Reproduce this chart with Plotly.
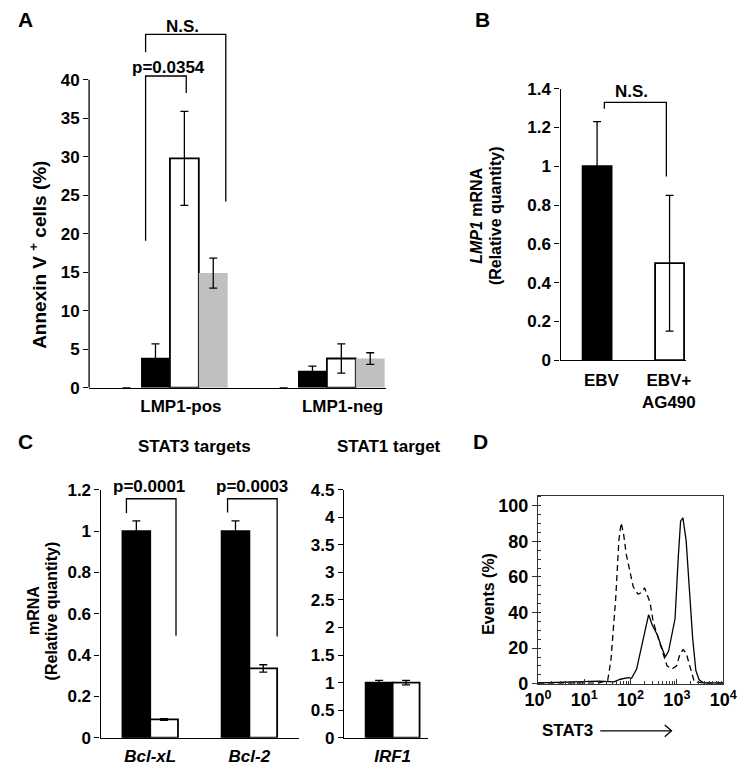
import plotly.graph_objects as go

W, H = 750, 773
def PX(px): return px / W
def PY(py): return 1 - py / H

FONT = "Liberation Sans, Arial, sans-serif"

# ---------------- Data ----------------
# Panel A
a_categories = ["LMP1-pos", "LMP1-neg"]
a_zero = [0, 0]
a_zero_err = [0, 0]
a_black = [3.9, 2.2]
a_black_err = [1.8, 0.6]
a_white = [29.8, 3.8]
a_white_err = [6.1, 1.9]
a_gray = [14.9, 3.8]
a_gray_err = [1.95, 0.75]
a_yticks = [0, 5, 10, 15, 20, 25, 30, 35, 40]

# Panel B
b_categories = ["EBV", "EBV+<br>AG490"]
b_values = [1.0, 0.5]
b_err = [0.23, 0.35]
b_yticks = [0, 0.2, 0.4, 0.6, 0.8, 1.0, 1.2, 1.4]

# Panel C (STAT3 targets)
c_categories = ["<i>Bcl-xL</i>", "<i>Bcl-2</i>"]
c_black = [1.0, 1.0]
c_black_err = [0.05, 0.05]
c_white = [0.088, 0.335]
c_white_err = [0.004, 0.018]
c_yticks = [0, 0.2, 0.4, 0.6, 0.8, 1.0, 1.2]

# Panel C (STAT1 target)
c2_categories = ["<i>IRF1</i>"]
c2_black = [1.0]
c2_black_err = [0.04]
c2_white = [1.0]
c2_white_err = [0.04]
c2_yticks = [0, 0.5, 1, 1.5, 2, 2.5, 3, 3.5, 4, 4.5]

# Panel D (flow histogram)
d_solid_x = [1, 21, 44, 60, 89, 105, 135, 186, 245, 295, 380, 447, 562, 661,
             776, 912, 1072, 1202, 1349, 1585, 1862, 2188, 2570, 3020, 3800, 10000]
d_solid_y = [0.4, 1.5, 1.0, 2.5, 3.4, 3.0, 8.2, 23.8, 38.8, 32.9, 27.4, 21.9, 15.0, 18.3,
             27.4, 36.5, 71.3, 91.4, 93.2, 80.4, 53.0, 25.6, 7.3, 2.2, 0.4, 0.4]
d_dash_x = [1, 20, 32, 37.5, 47.6, 55.8, 62.5, 70.8, 80.5, 94.4, 114, 145, 171, 200, 234,
            263, 308, 378, 481, 611, 776, 986, 1159, 1358, 1585, 1871, 2188, 2377, 4000, 10000]
d_dash_y = [0.3, 0.3, 1.8, 12.8, 47.5, 80.4, 90.5, 84.0, 72.8, 63.7, 54.5, 50.3, 51.2, 53.9, 49.3,
            45.7, 34.7, 27.4, 18.3, 10.1, 8.2, 10.1, 16.4, 19.2, 17.3, 11.0, 3.7, 1.0, 0.3, 0.3]
d_xtickvals = [1, 10, 100, 1000, 10000]
d_xticktext = ["10<sup>0</sup>", "10<sup>1</sup>", "10<sup>2</sup>", "10<sup>3</sup>", "10<sup>4</sup>"]
d_yticks = [0, 20, 40, 60, 80, 100]

GRAY = "#c0c0c0"
fig = go.Figure()

def err(arr):
    return dict(type="data", array=arr, visible=True, color="black", thickness=1.3, width=4)

def bar(x, y, e, color, offset, width, xa, ya, lw=1.8):
    return go.Bar(x=x, y=y, error_y=err(e), offset=offset, width=width,
                  marker=dict(color=color, line=dict(color="black", width=lw)),
                  xaxis=xa, yaxis=ya, showlegend=False, hoverinfo="skip")

# ---- Panel A ----
ax = [0, 1]
bw = 0.184
fig.add_trace(bar(ax, a_zero, a_zero_err, "white", -2 * bw, bw, "x", "y", lw=0))
fig.add_trace(bar(ax, a_black, a_black_err, "black", -bw, bw, "x", "y", lw=0))
fig.add_trace(bar(ax, a_white, a_white_err, "white", 0, bw, "x", "y"))
fig.add_trace(bar(ax, a_gray, a_gray_err, GRAY, bw, bw, "x", "y", lw=0))

# ---- Panel B ----
fig.add_trace(go.Bar(x=[0, 1], y=b_values, error_y=err(b_err), width=0.4,
                     marker=dict(color=["black", "white"], line=dict(color="black", width=1.8)),
                     xaxis="x2", yaxis="y2", showlegend=False, hoverinfo="skip"))

# ---- Panel C left ----
cw = 0.28
fig.add_trace(bar([0, 1], c_black, c_black_err, "black", -cw, cw, "x3", "y3"))
fig.add_trace(bar([0, 1], c_white, c_white_err, "white", 0, cw, "x3", "y3"))

# ---- Panel C right ----
fig.add_trace(bar([0], c2_black, c2_black_err, "black", -cw, cw, "x4", "y4"))
fig.add_trace(bar([0], c2_white, c2_white_err, "white", 0, cw, "x4", "y4"))

# ---- Panel D ----
fig.add_trace(go.Scatter(x=d_solid_x, y=d_solid_y, mode="lines", line=dict(color="black", width=1.3),
                         xaxis="x5", yaxis="y5", showlegend=False, hoverinfo="skip"))
fig.add_trace(go.Scatter(x=d_dash_x, y=d_dash_y, mode="lines",
                         line=dict(color="black", width=1.3, dash="6px,4px"),
                         xaxis="x5", yaxis="y5", showlegend=False, hoverinfo="skip"))

tickfont = dict(family=FONT, size=17, color="black", weight="bold")
dtickfont = dict(family=FONT, size=18, color="black", weight="bold")
common_x = dict(showline=True, linecolor="black", linewidth=1.3, ticks="", showgrid=False,
                zeroline=False, tickfont=tickfont, fixedrange=True)
common_y = dict(showline=True, linecolor="black", linewidth=1.3, ticks="outside", ticklen=5,
                tickwidth=1.3, tickcolor="black", showgrid=False, zeroline=False,
                tickfont=tickfont, fixedrange=True)

layout = dict(
    width=W, height=H, margin=dict(l=0, r=0, t=0, b=0),
    paper_bgcolor="white", plot_bgcolor="rgba(0,0,0,0)",
    barmode="overlay", showlegend=False,
    font=dict(family=FONT, size=17, color="black", weight="bold"),
    # A
    xaxis=dict(common_x, domain=[PX(78), PX(386)], range=[-0.515, 1.374],
               tickvals=[0.07, 1.1], ticktext=a_categories, anchor="y", ticklabelstandoff=3),
    yaxis=dict(common_y, domain=[PY(388.3), PY(9.5)], range=[0, 48], tickvals=a_yticks,
               showline=False, anchor="x"),
    # B
    xaxis2=dict(common_x, domain=[PX(567.7), PX(698)], range=[-0.505, 1.226],
                tickvals=[0.06, 0.99], ticktext=b_categories, anchor="y2", ticklabelstandoff=4),
    yaxis2=dict(common_y, domain=[PY(360), PY(81.7)], range=[0, 1.4], tickvals=b_yticks,
                anchor="x2"),
    # C left
    xaxis3=dict(common_x, domain=[PX(90), PX(296)], range=[-0.5, 1.5],
                tickvals=[0, 1], ticktext=c_categories, anchor="y3", ticklabelstandoff=3),
    yaxis3=dict(common_y, domain=[PY(747), PY(493)], range=[0, 1.2], tickvals=c_yticks,
                anchor="x3"),
    # C right
    xaxis4=dict(common_x, domain=[PX(342.7), PX(430)], range=[-0.506, 0.367],
                tickvals=[0], ticktext=c2_categories, anchor="y4", ticklabelstandoff=3),
    yaxis4=dict(common_y, domain=[PY(747), PY(493)], range=[0, 4.5], tickvals=c2_yticks,
                anchor="x4"),
    # D
    xaxis5=dict(type="log", domain=[PX(544.3), PX(736.7)], range=[0, 4],
                tickvals=d_xtickvals, ticktext=d_xticktext, anchor="y5",
                showline=True, linecolor="#333", linewidth=1.3, mirror=True,
                ticks="inside", ticklen=5, tickcolor="#333", showgrid=False, zeroline=False,
                tickfont=dtickfont, fixedrange=True,
                minor=dict(ticks="inside", ticklen=3, tickcolor="#333", dtick="D1", showgrid=False)),
    yaxis5=dict(domain=[PY(691.7), PY(499.3)], range=[0, 105.5], tickvals=d_yticks, anchor="x5",
                showline=True, linecolor="#333", linewidth=1.3, mirror=True,
                ticks="outside", ticklen=5, tickcolor="#333", showgrid=False, zeroline=False,
                tickfont=dtickfont, fixedrange=True,
                minor=dict(ticks="inside", ticklen=3, tickcolor="#333", dtick=5, showgrid=False)),
)
fig.update_layout(**layout)

shapes = []
# custom y axis line for A (0..40)
shapes.append(dict(type="line", xref="paper", yref="y", x0=PX(78), x1=PX(78), y0=0, y1=40,
                   line=dict(color="black", width=1.3)))

def bracket(xref, yref, x1, y1, x2, y2, ytop):
    return dict(type="path", xref=xref, yref=yref,
                path=f"M {x1},{y1} L {x1},{ytop} L {x2},{ytop} L {x2},{y2}",
                line=dict(color="black", width=1.3))

# A brackets
shapes.append(bracket("x", "y", -0.155, 19.1, 0.104, 38.3, 40.5))
shapes.append(bracket("x", "y", -0.155, 43.6, 0.356, 24.2, 45.9))
# B bracket
shapes.append(bracket("x2", "y2", 0.1, 1.296, 0.956, 0.947, 1.329))
# C brackets
shapes.append(bracket("x3", "y3", -0.24, 1.087, 0.26, 0.493, 1.157))
shapes.append(bracket("x3", "y3", 0.78, 1.09, 1.28, 0.49, 1.157))
# STAT3 arrow
shapes.append(dict(type="line", xref="paper", yref="paper", x0=PX(609), x1=PX(683), y0=PY(740), y1=PY(740),
                   line=dict(color="black", width=1.3)))
shapes.append(dict(type="path", xref="paper", yref="paper",
                   path=f"M {PX(676)},{PY(734)} L {PX(683)},{PY(740)} L {PX(676)},{PY(746)}",
                   line=dict(color="black", width=1.3)))
fig.update_layout(shapes=shapes)

def txt(text, x, y, size=17, angle=0, xref="paper", yref="paper", xanchor="center"):
    return dict(text=text, x=x, y=y, xref=xref, yref=yref, showarrow=False, textangle=angle,
                xanchor=xanchor, yanchor="middle",
                font=dict(family=FONT, size=size, color="black", weight="bold"))

ann = [
    txt("A", PX(12), PY(11), size=21),
    txt("B", PX(487), PY(11), size=21),
    txt("C", PX(12), PY(443), size=21),
    txt("D", PX(485), PY(443), size=21),
    txt("p=0.0354", PX(161), PY(60)),
    txt("N.S.", PX(175), PY(18)),
    txt("N.S.", PX(641), PY(85)),
    txt("p=0.0001", PX(140), PY(490)),
    txt("p=0.0003", PX(247), PY(490)),
    txt("STAT3 targets", PX(187), PY(449)),
    txt("STAT1 target", PX(390), PY(449)),
    txt("Annexin V <sup>+</sup> cells (%)", PX(25), PY(252), size=19, angle=-90),
    txt("<i>LMP1</i> mRNA", PX(481), PY(212), size=16, angle=-90),
    txt("(Relative quantity)", PX(500), PY(212), size=16, angle=-90),
    txt("mRNA", PX(21), PY(617), size=16, angle=-90),
    txt("(Relative quantity)", PX(39), PY(617), size=16, angle=-90),
    txt("Events (%)", PX(493), PY(600), size=16, angle=-90),
    txt("STAT3", PX(575), PY(740)),
]
fig.update_layout(annotations=ann)

fig.write_html("out.html", config={"displayModeBar": False},
               post_script="document.body.style.margin='0';document.body.style.overflow='hidden';")
